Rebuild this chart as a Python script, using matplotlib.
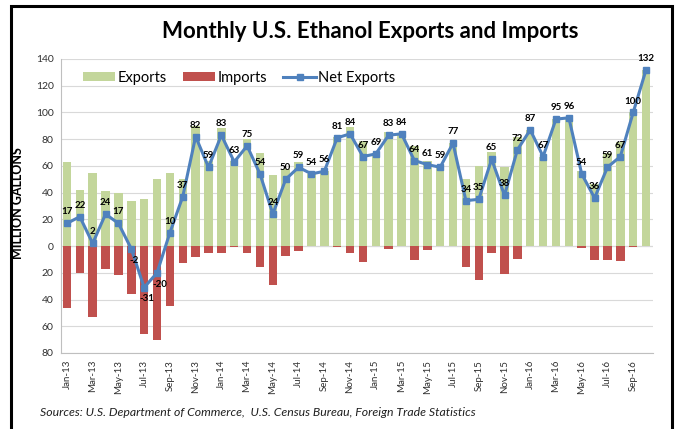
import matplotlib
matplotlib.use("Agg")
import matplotlib.pyplot as plt
from matplotlib.patches import Rectangle
import numpy as np

months = ["Jan-13","Feb-13","Mar-13","Apr-13","May-13","Jun-13","Jul-13","Aug-13","Sep-13","Oct-13","Nov-13","Dec-13",
          "Jan-14","Feb-14","Mar-14","Apr-14","May-14","Jun-14","Jul-14","Aug-14","Sep-14","Oct-14","Nov-14","Dec-14",
          "Jan-15","Feb-15","Mar-15","Apr-15","May-15","Jun-15","Jul-15","Aug-15","Sep-15","Oct-15","Nov-15","Dec-15",
          "Jan-16","Feb-16","Mar-16","Apr-16","May-16","Jun-16","Jul-16","Aug-16","Sep-16","Oct-16"]

exports = [63, 42, 55, 41, 40, 34, 35, 50, 55, 50, 90, 64,
           88, 63.5, 80.5, 70, 53, 57.5, 63, 54, 56, 82, 89, 79,
           69, 85.5, 84, 75, 64, 59, 77, 50, 60, 70.5, 59, 81.5,
           87, 67, 95, 96, 56, 46.5, 69.5, 78, 100.5, 132]

imports = [46, 20, 53, 17, 22, 36, 66, 70, 45, 13, 8, 5,
           5, 0.5, 5.5, 16, 29, 7.5, 4, 0, 0.3, 1, 5, 12,
           0.3, 2.5, 0, 10.5, 3, 0, 0, 16, 25, 5.5, 21, 9.5,
           0, 0, 0, 0, 1.8, 10.5, 10.5, 11, 0.5, 0]

net_exports = [17, 22, 2, 24, 17, -2, -31, -20, 10, 37, 82, 59,
               83, 63, 75, 54, 24, 50, 59, 54, 56, 81, 84, 67,
               69, 83, 84, 64, 61, 59, 77, 34, 35, 65, 38, 72,
               87, 67, 95, 96, 54, 36, 59, 67, 100, 132]

yticks = [-80, -60, -40, -20, 0, 20, 40, 60, 80, 100, 120, 140]

title = "Monthly U.S. Ethanol Exports and Imports"
ylabel = "MILLION GALLONS"
source = "Sources: U.S. Department of Commerce,  U.S. Census Bureau, Foreign Trade Statistics"

GREEN = "#C3D69B"
RED = "#C0504D"
BLUE = "#4F81BD"
FONT = "Lato"

fig = plt.figure(figsize=(6.77, 4.29), dpi=100)
W, H = 677, 429
ax = fig.add_axes([60.5 / W, 1 - 353 / H, (652.5 - 60.5) / W, (353 - 59) / H])

x = np.arange(len(months))
b1 = ax.bar(x, exports, width=0.66, color=GREEN, label="Exports", zorder=2)
b2 = ax.bar(x, [-v for v in imports], width=0.66, color=RED, label="Imports", zorder=2)
l1, = ax.plot(x, net_exports, color=BLUE, lw=2.2, marker="s", ms=5, mfc=BLUE, mec=BLUE,
              label="Net Exports", zorder=4)

for xi, v in zip(x, net_exports):
    if v >= 0:
        ax.annotate(str(v), (xi, v), xytext=(0, 5), textcoords="offset points",
                    ha="center", va="bottom", fontsize=7, fontweight="bold",
                    family=FONT, color="black", zorder=5)
    else:
        ax.annotate(str(v), (xi, v), xytext=(2, -5), textcoords="offset points",
                    ha="center", va="top", fontsize=7, fontweight="bold",
                    family=FONT, color="black", zorder=5)

ax.set_xlim(-0.5, len(months) - 0.5)
ax.set_ylim(-80, 140)
ax.set_yticks(yticks)
ax.set_yticklabels([str(abs(t)) for t in yticks], fontsize=7.5, family=FONT, color="#303030")
ax.set_xticks(x[::2])
ax.set_xticklabels(months[::2], rotation=90, fontsize=7, family=FONT, color="#303030")
ax.tick_params(axis="both", length=0, pad=5)
ax.grid(axis="y", color="#D9D9D9", lw=0.8, zorder=0)
ax.axhline(0, color="#BFBFBF", lw=0.8, zorder=1)
for s in ["top", "right"]:
    ax.spines[s].set_visible(False)
ax.spines["left"].set_color("#BFBFBF")
ax.spines["bottom"].set_color("#BFBFBF")
ax.spines["left"].set_linewidth(0.8)
ax.spines["bottom"].set_linewidth(0.8)

ax.set_ylabel(ylabel, fontsize=9, fontweight="bold", family=FONT)
ax.yaxis.set_label_coords(-0.062, 0.51)

leg = ax.legend([b1, b2, l1], ["Exports", "Imports", "Net Exports"],
                loc="upper left", bbox_to_anchor=(0.015, 1.005), ncol=3, frameon=False,
                prop={"family": FONT, "size": 10.5}, handlelength=2.2, handleheight=0.6,
                columnspacing=1.1, handletextpad=0.2)

fig.text(370 / W, 1 - 32 / H, title, ha="center", va="center", fontsize=16,
         fontweight="bold", family=FONT, color="black")
fig.text(40 / W, 1 - 413 / H, source, ha="left", va="center", fontsize=8.8,
         style="italic", family=FONT, color="#202020")

fig.patches.append(Rectangle((11 / W, -0.05), (672 - 11) / W, 1.05 - 6 / H,
                             transform=fig.transFigure, fill=False, ec="black", lw=2.2))

fig.savefig("out.png", dpi=100)
